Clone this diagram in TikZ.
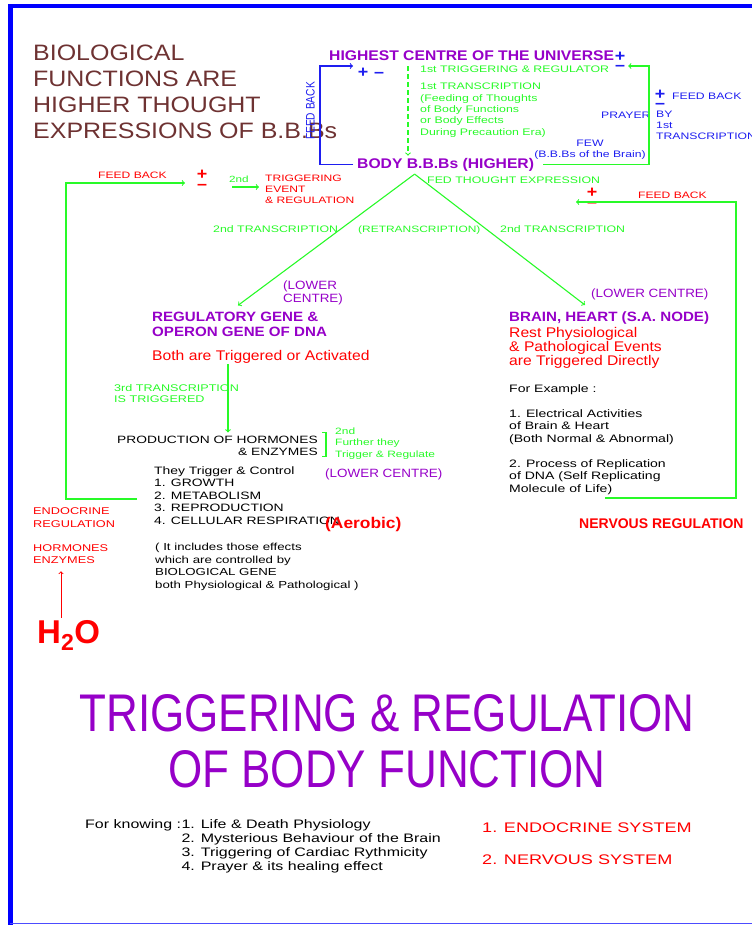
\documentclass[tikz,border=0pt]{standalone}
\usepackage{fontspec}
\setmainfont[FakeStretch=1.3]{Liberation Sans}
\newfontfamily\midfont[FakeStretch=1.12]{Liberation Sans}
\newfontfamily\narrowfont[FakeStretch=0.83]{Liberation Sans}
\newfontfamily\plainfont{Liberation Sans}
\newcommand\fsz[2]{\fontsize{#1}{#2}\selectfont}
\definecolor{mygreen}{RGB}{40,250,40}
\definecolor{mypurple}{RGB}{150,0,200}
\definecolor{myblue}{RGB}{30,30,240}
\definecolor{titlebrown}{RGB}{110,50,50}
\tikzset{
  txt/.style={inner sep=0pt, anchor=base west, align=left},
  gtxt/.style={txt, text=mygreen, font=\fsz{9.5}{11.3}},
  rtxt/.style={txt, text=red, font=\fsz{9.3}{11}},
  btxt/.style={txt, text=myblue, font=\fsz{9.4}{11}},
  ktxt/.style={txt, text=black, font=\fsz{10.7}{12.5}},
  ptxt/.style={txt, text=mypurple, font=\midfont\fsz{12}{13}},
  head/.style={txt, text=mypurple, font=\midfont\bfseries\fsz{14}{15}},
  sign/.style={inner sep=0pt, font=\midfont\bfseries\fsz{16}{16}},
  glink/.style={draw=mygreen, line width=1.1pt, ->},
  blink/.style={draw=myblue, line width=1.1pt, ->},
}
\begin{document}
\begin{tikzpicture}[x=1pt,y=-1pt]
  \useasboundingbox (0,0) rectangle (752,926);
  % frame
  \draw[blue, line width=4pt] (9,6) -- (752,6);
  \draw[blue, line width=5pt] (10.7,4) -- (10.7,925);
  \draw[blue!70, line width=1.5pt] (10,923.7) -- (752,923.7);

  % top (multi-line texts sit on their last line)
  \node[txt, text=titlebrown, font=\midfont\fsz{22.3}{25.7}] (title) at (33,138) {BIOLOGICAL\\FUNCTIONS ARE\\HIGHER THOUGHT\\EXPRESSIONS OF B.B.Bs};
  \node[head] (hcu) at (329,60) {HIGHEST CENTRE OF THE UNIVERSE};
  \node[sign, text=myblue] (hplus) at (620,57) {+};
  \node[sign, text=myblue] (hminus) at (620,68) {\textendash};
  \node[sign, text=myblue] (lplus) at (363,73) {+};
  \node[sign, text=myblue] (lminus) at (379,75) {\textendash};
  \node[gtxt] (trig1) at (420,72) {1st TRIGGERING \& REGULATOR};
  \node[gtxt] (trans1) at (420,135) {1st TRANSCRIPTION\\(Feeding of Thoughts\\of Body Functions\\or Body Effects\\During Precaution Era)};
  \node[head, inner xsep=4pt] (body) at (353,168) {BODY B.B.Bs (HIGHER)};
  \node[btxt, anchor=base, align=center] (few) at (590,157) {FEW\\(B.B.Bs of the Brain)};
  \node[btxt] (prayer) at (601,118) {PRAYER};
  \node[btxt] (by1st) at (656,139) {BY\\1st\\TRANSCRIPTION};
  \node[sign, text=myblue] (fplus) at (660,95) {+};
  \node[sign, text=myblue] (fminus) at (660,106) {\textendash};
  \node[btxt] (fbblue) at (672,99) {FEED BACK};
  \node[inner sep=0pt, text=myblue, font=\narrowfont\fsz{12.3}{12}, rotate=90] (fbside) at (310.5,111) {FEED BACK};

  % middle
  \node[rtxt] (fbleft) at (98,178) {FEED BACK};
  \node[sign, text=red] (eplus) at (202,175) {+};
  \node[sign, text=red] (eminus) at (202,187) {\textendash};
  \node[gtxt, font=\fsz{9}{11}] (second) at (229,182) {2nd};
  \node[rtxt] (tev) at (265,203) {TRIGGERING\\EVENT\\\& REGULATION};
  \node[gtxt] (fed) at (427,183) {FED THOUGHT EXPRESSION};
  \node[sign, text=red] (nplus) at (592,193) {+};
  \node[sign, text=red] (nminus) at (592,205) {\textendash};
  \node[rtxt] (fbright) at (638,198) {FEED BACK};
  \node[gtxt] (tr2l) at (213,232) {2nd TRANSCRIPTION};
  \node[gtxt, font=\fsz{9.2}{11}] (retr) at (358,232) {(RETRANSCRIPTION)};
  \node[gtxt] (tr2r) at (500,232) {2nd TRANSCRIPTION};

  % left branch
  \node[ptxt] (lowl) at (283,302) {(LOWER\\CENTRE)};
  \node[head, font=\midfont\bfseries\fsz{13.5}{15}] (gene) at (152,336) {REGULATORY GENE \&\\OPERON GENE OF DNA};
  \node[txt, text=red, font=\midfont\fsz{14}{14}] (both) at (152,360) {Both are Triggered or Activated};
  \node[gtxt, font=\fsz{9.7}{11}] (trans3) at (114,402) {3rd TRANSCRIPTION\\IS TRIGGERED};
  \node[ktxt, anchor=base east, align=right, font=\fsz{10.6}{12}] (prod) at (318,455) {PRODUCTION OF HORMONES\\\& ENZYMES};
  \node[gtxt, font=\fsz{9.2}{11.5}] (further) at (335,457) {2nd\\Further they\\Trigger \& Regulate};
  \node[ptxt] (lowc) at (325,477) {(LOWER CENTRE)};
  \node[ktxt] (control) at (154,524) {They Trigger \& Control\\1. GROWTH\\2. METABOLISM\\3. REPRODUCTION\\4. CELLULAR RESPIRATION};
  \node[txt, text=red, font=\midfont\bfseries\fsz{15.5}{16}] (aerobic) at (325,528) {(Aerobic)};
  \node[rtxt, font=\fsz{9.8}{13}] (endoreg) at (33,527) {ENDOCRINE\\REGULATION};
  \node[rtxt, font=\fsz{9.8}{12}] (hormones) at (33,563) {HORMONES\\ENZYMES};
  \node[txt, text=red, font=\plainfont\bfseries\fsz{33}{33}] (water) at (37,643) {H\textsubscript{2}O};
  \node[ktxt, font=\fsz{10.2}{12.4}] (includes) at (155,588) {( It includes those effects\\which are controlled by\\BIOLOGICAL GENE\\both Physiological \& Pathological )};

  % right branch
  \node[ptxt] (lowr) at (591,297) {(LOWER CENTRE)};
  \node[head, font=\midfont\bfseries\fsz{13.5}{15}] (brain) at (509,321) {BRAIN, HEART (S.A. NODE)};
  \node[txt, text=red, font=\midfont\fsz{14}{14}] (rest) at (509,365) {Rest Physiological\\\& Pathological Events\\are Triggered Directly};
  \node[ktxt, font=\fsz{10.8}{12.5}] (example) at (509,392) {For Example :};
  \node[ktxt, font=\fsz{10.8}{12.5}] (ex1) at (509,442) {1. Electrical Activities\\of Brain \& Heart\\(Both Normal \& Abnormal)};
  \node[ktxt, font=\fsz{10.8}{12.5}] (ex2) at (509,492) {2. Process of Replication\\of DNA (Self Replicating\\Molecule of Life)};
  \node[txt, text=red, font=\plainfont\bfseries\fsz{14}{14}] (nervreg) at (579,528) {NERVOUS REGULATION};

  % bottom
  \node[anchor=base, align=center, inner sep=0pt, text=mypurple, font=\narrowfont\fsz{53}{56}] (banner) at (387,787) {TRIGGERING \& REGULATION\\OF BODY FUNCTION};
  \node[ktxt, font=\fsz{12.3}{14}] (knowing) at (85,828) {For knowing :};
  \node[ktxt, font=\fsz{12.3}{14}] (purpose) at ([yshift=-42pt]knowing.base east) {1. Life \& Death Physiology\\2. Mysterious Behaviour of the Brain\\3. Triggering of Cardiac Rythmicity\\4. Prayer \& its healing effect};
  \node[rtxt, font=\fsz{13.9}{14}] (endosys) at (482,832) {1. ENDOCRINE SYSTEM};
  \node[rtxt, font=\fsz{13.9}{14}] (nervsys) at (482,864) {2. NERVOUS SYSTEM};

  % links
  \coordinate (fbin) at (353,66);
  \coordinate (dtop) at (408,66);
  \coordinate (rtop) at (649,66);
  \coordinate (apex) at ([xshift=-31pt,yshift=-3pt]body.south);
  \coordinate (metab) at (137,499);
  \coordinate (fbl) at (185,183);
  \coordinate (a2) at (232,187);
  \coordinate (exout) at (605,498);
  \coordinate (fbr) at (576,202);
  \coordinate (t3) at (228,364);
  \draw[blink] (body.west) -- ++(-33,0) |- (fbin);
  \draw[glink, dash pattern=on 5pt off 3pt, shorten >=2pt] (dtop) -- (dtop |- body.north);
  \draw[glink] ([xshift=5pt]body.east) -| (rtop) -- ([xshift=3pt]rtop -| hminus.east);
  \draw[glink] (apex) -- ([xshift=86pt,yshift=6pt]gene.north west);
  \draw[glink] (apex) -- ([xshift=76pt,yshift=6pt]brain.north west);
  \draw[glink] (metab) -- ++(-71,0) |- (fbl);
  \draw[glink, shorten >=6pt] (a2) -- (a2 -| tev.west);
  \draw[glink] (exout) -- ++(131,0) |- (fbr);
  \draw[glink, shorten >=3pt] (t3) -- (t3 |- prod.north);
  \draw[mygreen, line width=1.6pt] ([xshift=4pt,yshift=3pt]prod.north east) -- ++(4,0) |- ([xshift=4pt,yshift=-1pt]prod.south east);
  \draw[red, line width=0.9pt, ->, shorten <=2pt, shorten >=8pt] ([xshift=24pt]water.north west) -- ([xshift=28pt]hormones.south west);
\end{tikzpicture}
\end{document}
